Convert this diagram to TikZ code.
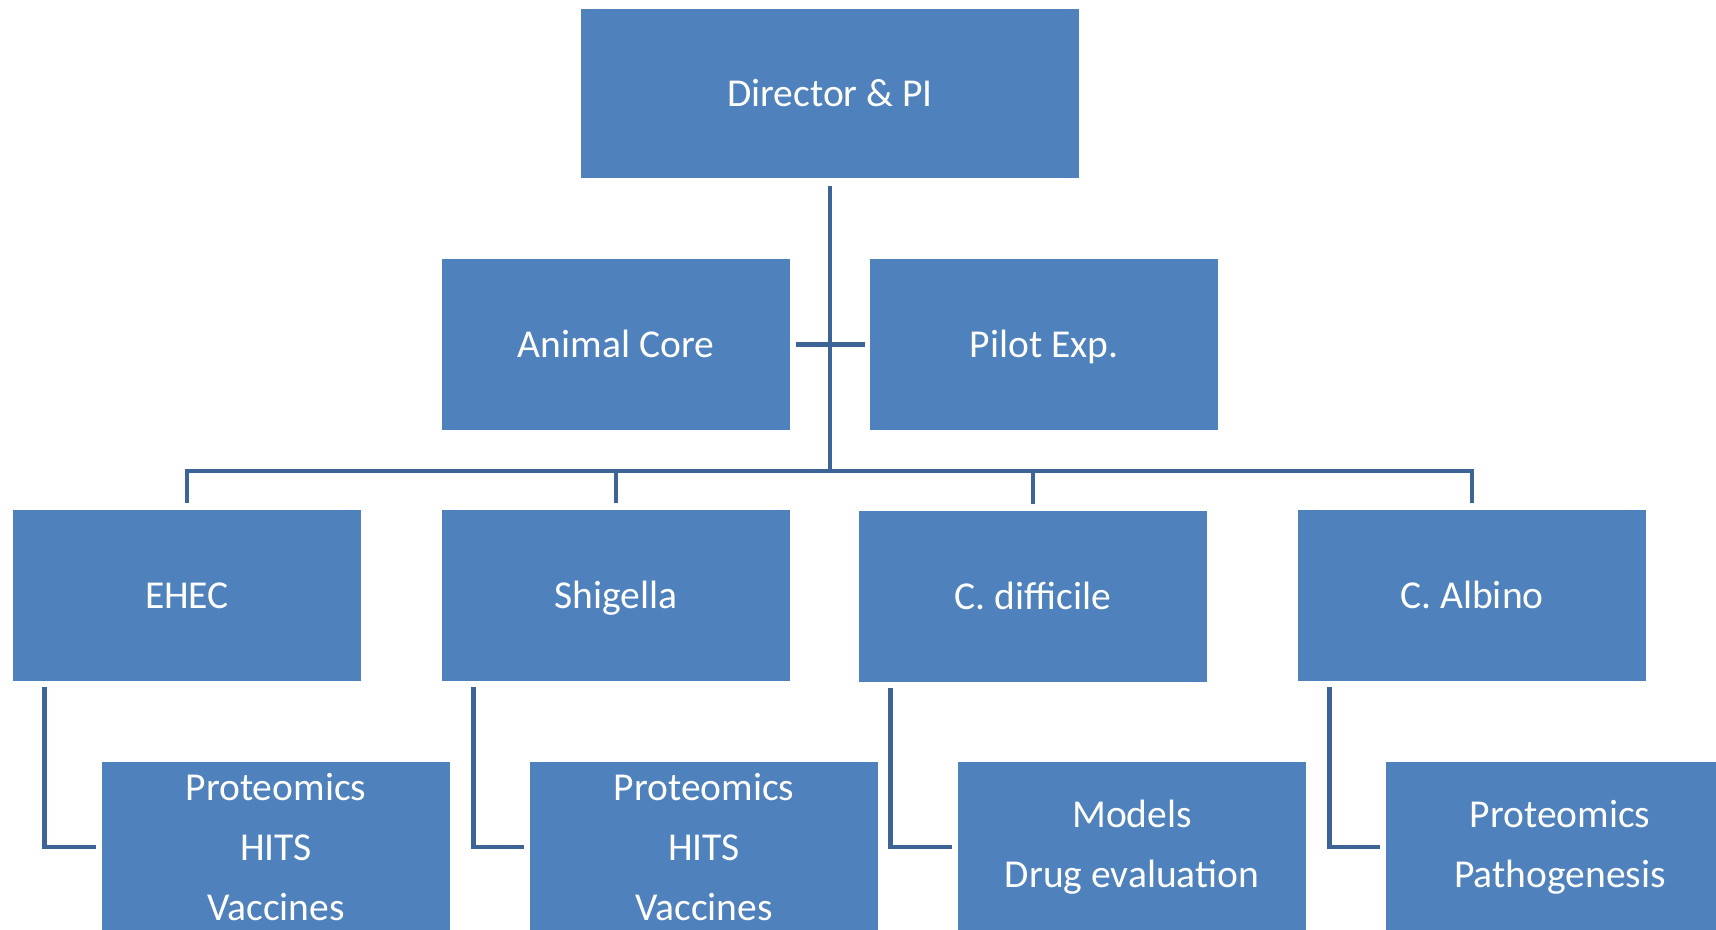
\documentclass[tikz,border=0pt]{standalone}
\usepackage{fontspec}
\setmainfont{Carlito}
\usepackage{xcolor}
\definecolor{boxblue}{HTML}{4F81BD}
\definecolor{lineblue}{HTML}{3C6496}
\begin{document}
\begin{tikzpicture}[x=0.02cm, y=-0.02cm,
	box/.style={fill=boxblue, text=white, align=center, inner sep=0pt,
		minimum width=6.96cm, minimum height=3.42cm,
		font=\fontsize{22.5}{34}\selectfont},
	oneline/.style={box, text height=14.5pt, text depth=0pt},
	link/.style={draw=lineblue, line width=0.09cm}]
	\useasboundingbox (0,0) rectangle (1716,929);

	%top
	\node[oneline, minimum width=9.96cm, minimum height=3.38cm] (dir) at (830,93.5) {Director \& PI};

	%cores
	\node[oneline] (animal) at (616,344.5) {Animal Core};
	\node[oneline] (pilot) at (1044,344.5) {Pilot Exp.};

	%projects
	\node[oneline] (ehec) at (187,595.5) {EHEC};
	\node[oneline] (shig) at (616,595.5) {Shigella};
	\node[oneline] (cdiff) at (1033,596.5) {C. difficile};
	\node[oneline] (albino) at (1472,595.5) {C. Albino};

	%topics
	\node[box] (ehecsub) at (276,847) {Proteomics\\HITS\\Vaccines};
	\node[box] (shigsub) at (704,847) {Proteomics\\HITS\\Vaccines};
	\node[box] (cdiffsub) at (1132,847) {Models\\Drug evaluation};
	\node[box] (albinosub) at (1560,847) {Proteomics\\Pathogenesis};

	\coordinate (bus) at (830,471);

	%trunk
	\draw[link] ([yshift=-0.16cm]dir.south) -- (bus);
	\draw[link] ([xshift=0.12cm]animal.east) -- ([xshift=-0.1cm]pilot.west);

	%bus and drops
	\draw[link] ([yshift=0.14cm]ehec.north) |- (bus) -| ([yshift=0.14cm]albino.north);
	\draw[link] ([yshift=0.14cm]shig.north) -- (shig.north |- bus);
	\draw[link] ([yshift=0.14cm]cdiff.north) -- (cdiff.north |- bus);

	%elbows
		\draw[link] ([xshift=0.64cm, yshift=-0.12cm]ehec.south west) |- ([xshift=-0.12cm]ehecsub.west);
		\draw[link] ([xshift=0.64cm, yshift=-0.12cm]shig.south west) |- ([xshift=-0.12cm]shigsub.west);
		\draw[link] ([xshift=0.64cm, yshift=-0.12cm]cdiff.south west) |- ([xshift=-0.12cm]cdiffsub.west);
		\draw[link] ([xshift=0.64cm, yshift=-0.12cm]albino.south west) |- ([xshift=-0.12cm]albinosub.west);

\end{tikzpicture}
\end{document}
